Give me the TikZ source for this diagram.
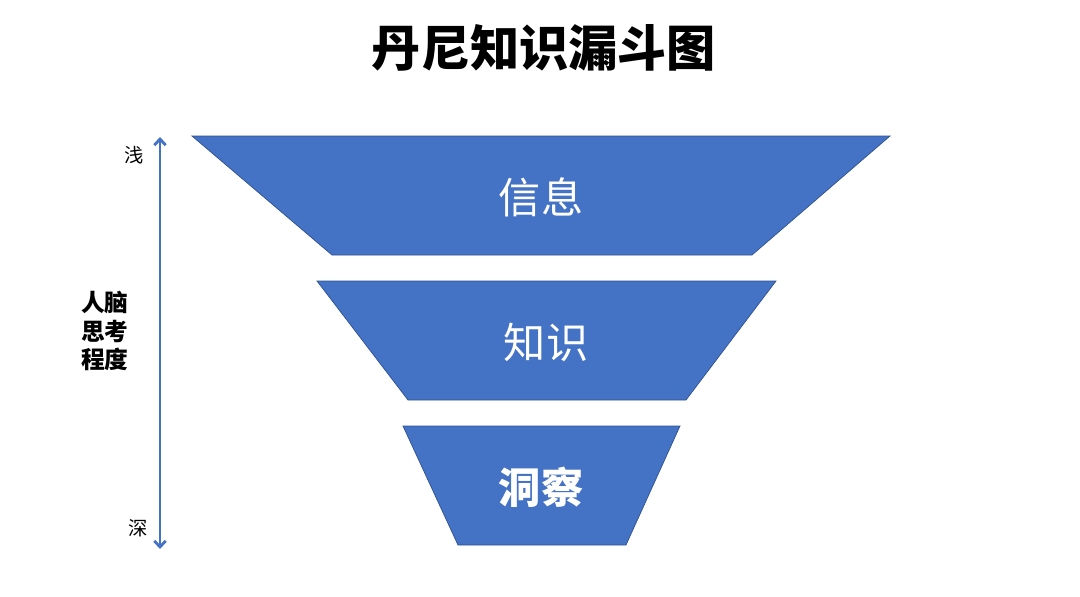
\documentclass[tikz,border=0pt]{standalone}
\usepackage{fontspec}
\usepackage{xcolor}
\usetikzlibrary{arrows.meta}
\newfontfamily\cjk{Noto Sans CJK SC}
\definecolor{funnelblue}{HTML}{4472C4}
\definecolor{funneledge}{HTML}{2F528F}

\begin{document}
\begin{tikzpicture}[
            x = 0.02cm, y = -0.02cm, % one unit per pixel
            semithick % line style
        ]

        \tikzstyle{layer}=[
            fill = funnelblue,
            draw = funneledge,
            line width = 0.4pt
        ]
        \tikzstyle{layer text}=[
            text = white,
            font = \cjk\fontsize{24}{28}\selectfont
        ]
        \tikzstyle{side text}=[
            font = \cjk\fontsize{11}{13}\selectfont
        ]

        \useasboundingbox (0, 0) rectangle (1080, 596);

        \node[font = \cjk\bfseries\fontsize{28}{32}\selectfont] (title) [at={(544, 48)}] {丹尼知识漏斗图};

        % funnel layers
        \filldraw[layer] (192, 136) -- (890, 136) -- (752, 255) -- (332, 255) -- cycle;
        \filldraw[layer] (317, 281) -- (776, 281) -- (686, 400) -- (408, 400) -- cycle;
        \filldraw[layer] (403, 426) -- (680, 426) -- (626, 545) -- (458, 545) -- cycle;

        \node[layer text] (info) [at={(541, 197)}] {信息};
        \node[layer text] (know) [at={(546, 342)}] {知识};
        \node[layer text, font = \cjk\bfseries\fontsize{24}{28}\selectfont] (insight) [at={(541, 487)}] {洞察};

        % depth axis
        \coordinate (shallow) at (160, 137);
        \coordinate (deep) at (160, 549);
        \draw[funnelblue, line width = 1.6pt, {Straight Barb[length=3.5pt, width=6.5pt]}-{Straight Barb[length=3.5pt, width=6.5pt]}] (shallow) -- (deep);

        \node[side text] (qian) [at={(134, 155)}] {浅};
        \node[side text] (shen) [at={(138, 528)}] {深};
        \node[side text, font = \cjk\bfseries\fontsize{13.5}{16}\selectfont, align = center] (depth) [at={(105, 331)}] {人脑\\思考\\程度};
    \end{tikzpicture}
\end{document}
